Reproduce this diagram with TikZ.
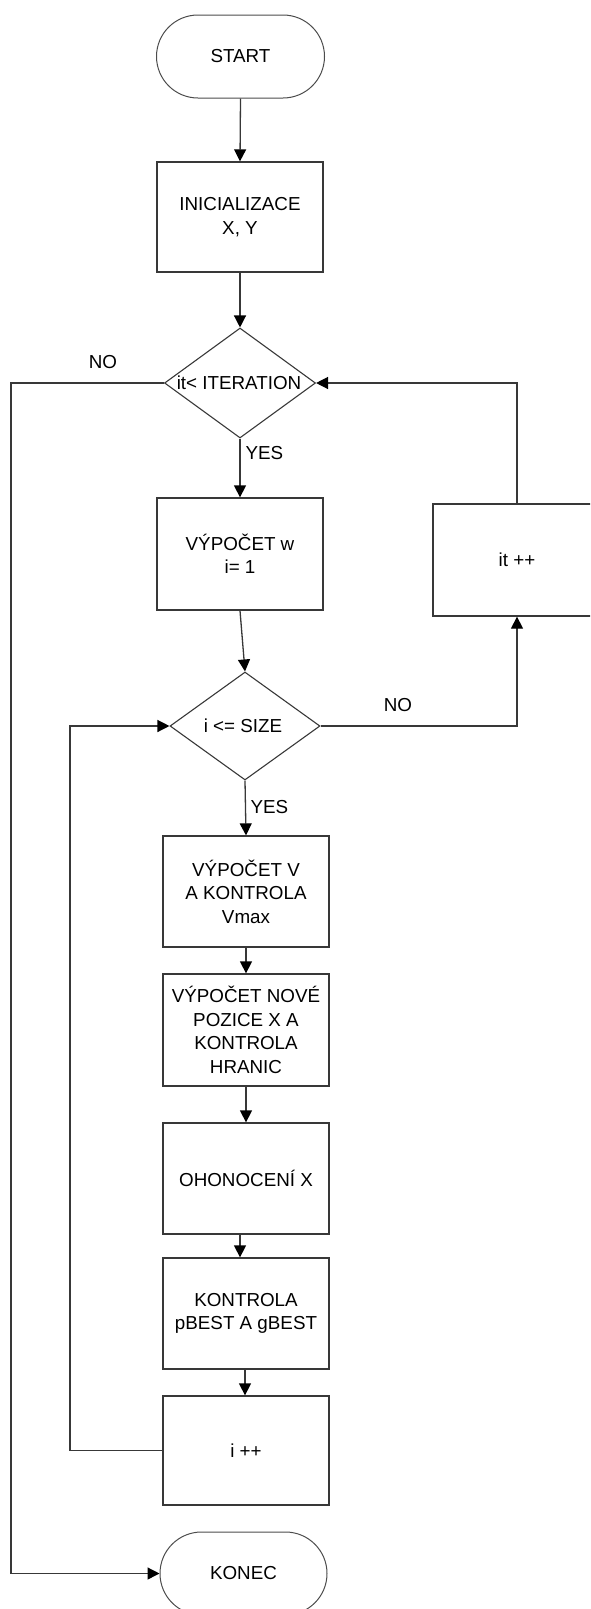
\documentclass[tikz,border=0pt]{standalone}
\usepackage{fontspec}
\setmainfont{Liberation Sans}
\usetikzlibrary{arrows.meta,shapes.geometric}
\begin{document}
\begin{tikzpicture}[x=1pt,y=-1pt,
  every node/.style={font=\fontsize{18.8}{23.5}\selectfont, text=black},
  ln/.style={draw=black!78, line width=1.3pt},
  arr/.style={ln, -{Triangle[length=12pt,width=12pt,color=black]}},
  proc/.style={ln, rectangle, minimum width=166pt, minimum height=111pt, align=center, inner sep=0pt},
  term/.style={draw=black!70, line width=1pt, rounded corners=41.5pt, minimum width=168pt, minimum height=83pt},
  dec/.style={ln, line width=1.1pt, diamond, inner sep=0pt, minimum width=151pt, minimum height=110pt},
  lbl/.style={inner sep=0pt}
]
\useasboundingbox (0,0) rectangle (590,1609);
\clip (0,0) rectangle (590,1609);

\node[term] (start) at (240.5,56.5) {START};
\node[proc, minimum height=110pt] (init) at (240,217) {INICIALIZACE\\X, Y};
\node[dec] (d1) at (240,383) {};
\node[lbl] (d1t) at (239,383) {it< ITERATION};
\node[proc, minimum height=112pt] (w) at (240,554) {VÝPOČET w\\i= 1};
\node[proc, minimum width=168pt, minimum height=112pt] (itpp) at (517,560) {it ++};
\node[dec, minimum width=150pt, minimum height=108pt] (d2) at (245,726) {};
\node[lbl] (d2t) at (243,726) {i <= SIZE};
\node[proc] (v) at (246,891.5) {VÝPOČET V\\A KONTROLA\\Vmax};
\node[proc, minimum height=112pt] (nove) at (246,1030) {VÝPOČET NOVÉ\\POZICE X A\\KONTROLA\\HRANIC};
\node[proc] (ohon) at (246,1178.5) {OHONOCENÍ X};
\node[proc] (kontr) at (246,1313.5) {KONTROLA\\pBEST A gBEST};
\node[proc, minimum height=109pt] (ipp) at (246,1450.5) {i ++};
\node[term, minimum width=167pt] (konec) at (243.5,1573.5) {KONEC};

\coordinate (lp) at (70,726);
\coordinate (ex) at (11,383);

\draw[arr] (start.south) -- (init.north);
\draw[arr] (init.south) -- (d1.north);
\draw[arr] (d1.south) -- (w.north) node[lbl, pos=0.25, anchor=west, xshift=5pt] (yes1) {YES};
\draw[arr] (w.south) -- (d2.north);
\draw[arr] (d2.south) -- (v.north) node[lbl, pos=0.48, anchor=west, xshift=4.5pt] (yes2) {YES};
\draw[arr] (v.south) -- (nove.north);
\draw[arr] (nove.south) -- (ohon.north);
\draw[arr] ([xshift=-6pt]ohon.south) -- ([xshift=-6pt]kontr.north);
\draw[arr] ([xshift=-1pt]kontr.south) -- ([xshift=-1pt]ipp.north);
\draw[arr] (ipp.west) -| (lp) -- (d2.west);
\draw[arr] (d2.east) -| (itpp.south);
\draw[arr] (itpp.north) |- (d1.east);
\draw[arr] (d1.west) -- (ex) |- (konec.west);

\node[lbl] (no1) at (103,362) {NO};
\node[lbl] (no2) at (398,705) {NO};
\end{tikzpicture}
\end{document}
